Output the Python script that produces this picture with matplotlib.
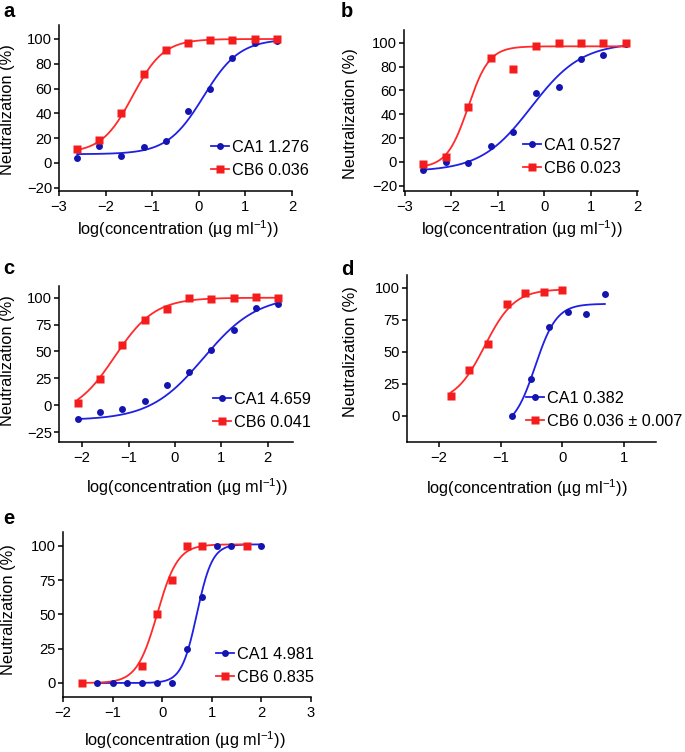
import numpy as np
import matplotlib
matplotlib.use("Agg")
import matplotlib.pyplot as plt
from matplotlib.lines import Line2D

plt.rcParams['font.family'] = ['Liberation Sans', 'DejaVu Sans']
plt.rcParams['mathtext.fontset'] = 'custom'
plt.rcParams['mathtext.rm'] = 'Liberation Sans'
plt.rcParams['mathtext.it'] = 'Liberation Sans'

W, H = 685, 752

# ---------------- data ----------------
# panel a
a_ca1_x = [-2.61, -2.14, -1.66, -1.18, -0.71, -0.23, 0.25, 0.72, 1.20, 1.67]
a_ca1_y = [4, 13.5, 5.5, 13, 18, 42, 60, 84.5, 96.5, 98.5]
a_cb6_x = [-2.61, -2.14, -1.66, -1.18, -0.71, -0.23, 0.25, 0.72, 1.20, 1.67]
a_cb6_y = [11, 18.3, 40, 72, 91, 97, 99, 99.5, 100, 100]
# panel b
b_ca1_x = [-2.61, -2.12, -1.64, -1.15, -0.67, -0.18, 0.31, 0.79, 1.27, 1.76]
b_ca1_y = [-6.5, 0, -0.5, 13.7, 25, 58, 63, 86, 90, 99]
b_cb6_x = [-2.61, -2.12, -1.64, -1.15, -0.67, -0.18, 0.31, 0.79, 1.27, 1.76]
b_cb6_y = [-2, 4.5, 46, 87, 78, 97.5, 99.5, 100, 100, 100]
# panel c
c_ca1_x = [-2.09, -1.62, -1.13, -0.65, -0.17, 0.31, 0.79, 1.27, 1.75, 2.23]
c_ca1_y = [-12.5, -6.6, -3.2, 4.2, 18.8, 30.4, 51.5, 69.5, 90, 93.8]
c_cb6_x = [-2.09, -1.62, -1.13, -0.65, -0.17, 0.31, 0.79, 1.27, 1.75, 2.23]
c_cb6_y = [1.7, 24.7, 56, 79.5, 89.7, 99.4, 98.8, 99.7, 100.6, 100]
# panel d
d_ca1_x = [-0.81, -0.51, -0.21, 0.09, 0.39, 0.69]
d_ca1_y = [0, 28.5, 69.4, 80.9, 79.6, 94.8]
d_cb6_x = [-1.81, -1.51, -1.20, -0.90, -0.60, -0.30, 0.0]
d_cb6_y = [15.4, 35.9, 56.3, 87.2, 96, 97.1, 98.2]
# panel e
e_ca1_x = [-1.31, -1.0, -0.70, -0.41, -0.11, 0.19, 0.50, 0.80, 1.10, 1.39, 2.0]
e_ca1_y = [0, 0, 0, 0, 0, 0, 25, 62.5, 100, 100, 100]
e_cb6_x = [-1.62, -0.41, -0.11, 0.19, 0.50, 0.80, 1.70]
e_cb6_y = [0, 12.5, 50, 75, 100, 100, 100]

# fitted 4-parameter logistic curves: bottom, top, logIC50, hill
a_ca1_fit = [7, 100, 0.10, 1.12]
a_cb6_fit = [8, 100, -1.42, 1.31]
b_ca1_fit = [-8, 100, -0.28, 0.80]
b_cb6_fit = [-5, 97, -1.64, 1.9]
c_ca1_fit = [-14, 102, 0.62, 0.75]
c_cb6_fit = [-10, 100, -1.30, 1.0]
d_ca1_fit = [-10, 87.5, -0.44, 2.5]
d_cb6_fit = [10, 99, -1.26, 1.8]
e_ca1_fit = [0, 101, 0.70, 2.8]
e_cb6_fit = [0, 101, -0.10, 2.1]

panel_letters = ['a', 'b', 'c', 'd', 'e']
ca1_labels = ['CA1 1.276', 'CA1 0.527', 'CA1 4.659', 'CA1 0.382', 'CA1 4.981']
cb6_labels = ['CB6 0.036', 'CB6 0.023', 'CB6 0.041', 'CB6 0.036 \u00b1 0.007', 'CB6 0.835']
xticks_list = [[-3, -2, -1, 0, 1, 2], [-3, -2, -1, 0, 1, 2], [-2, -1, 0, 1, 2],
               [-2, -1, 0, 1], [-2, -1, 0, 1, 2, 3]]
yticks_list = [[-20, 0, 20, 40, 60, 80, 100], [-20, 0, 20, 40, 60, 80, 100],
               [-25, 0, 25, 50, 75, 100], [0, 25, 50, 75, 100], [0, 25, 50, 75, 100]]

xlabel = 'log(concentration (\u00b5g ml$^{\\mathregular{\u22121}}$))'
ylabel = 'Neutralization (%)'

BLUE_L = '#1f1fe6'
BLUE_M = '#1414b0'
RED_L = '#ff2a2a'
RED_M = '#f41c1c'

# ---------------- layout (pixels) ----------------
# left, right, top, bottom
boxes = [(59, 292, 25, 191), (404, 638, 30, 191), (59, 293, 286, 442),
         (407, 656, 275, 442), (63, 311, 532, 697)]
xlims = [(-3, 2), (-3.02, 2.02), (-2.5, 2.55), (-2.52, 1.52), (-2, 3)]
ylims = [(-22.7, 111.3), (-24.4, 110.7), (-34.3, 110.9), (-20.4, 110), (-10.2, 110)]
letter_pos = [(3, 17), (341, 17), (3, 274), (341, 275), (3, 524)]
ylab_pos = [(8, 110), (350, 114), (8, 361), (350, 352), (9, 610)]
xlab_pos = [(178, 229), (522, 229), (187, 487), (527, 488), (185, 740)]
leg_pos = [(211, 140), (523, 138), (213, 392), (526, 391), (216, 647)]

fig = plt.figure(figsize=(W / 100, H / 100), dpi=100)


def logistic(x, p):
    b, t, c, h = p
    return b + (t - b) / (1 + 10 ** ((c - x) * h))


panels = [
    (a_ca1_x, a_ca1_y, a_cb6_x, a_cb6_y, a_ca1_fit, a_cb6_fit),
    (b_ca1_x, b_ca1_y, b_cb6_x, b_cb6_y, b_ca1_fit, b_cb6_fit),
    (c_ca1_x, c_ca1_y, c_cb6_x, c_cb6_y, c_ca1_fit, c_cb6_fit),
    (d_ca1_x, d_ca1_y, d_cb6_x, d_cb6_y, d_ca1_fit, d_cb6_fit),
    (e_ca1_x, e_ca1_y, e_cb6_x, e_cb6_y, e_ca1_fit, e_cb6_fit),
]

for i, (x1, y1, x2, y2, f1, f2) in enumerate(panels):
    l, r, t, b = boxes[i]
    ax = fig.add_axes([l / W, 1 - b / H, (r - l) / W, (b - t) / H])
    # curves
    xs1 = np.linspace(min(x1), max(x1), 300)
    xs2 = np.linspace(min(x2), max(x2), 300)
    ax.plot(xs1, logistic(xs1, f1), color=BLUE_L, lw=1.3, zorder=2)
    ax.plot(xs2, logistic(xs2, f2), color=RED_L, lw=1.3, zorder=2)
    ax.plot(x1, y1, 'o', color=BLUE_M, ms=5.0, mec='none', zorder=3)
    ax.plot(x2, y2, 's', color=RED_M, ms=5.2, mec='none', zorder=4)
    ax.set_xlim(*xlims[i])
    ax.set_ylim(*ylims[i])
    ax.set_xticks(xticks_list[i])
    ax.set_yticks(yticks_list[i])
    ax.set_xticklabels([str(v).replace('-', '\u2212') for v in xticks_list[i]])
    ax.set_yticklabels([str(v).replace('-', '\u2212') for v in yticks_list[i]])
    for s in ['top', 'right']:
        ax.spines[s].set_visible(False)
    for s in ['left', 'bottom']:
        ax.spines[s].set_linewidth(1.1)
    ax.tick_params(direction='out', length=3.5, width=1.1, labelsize=10.6)
    ax.tick_params(axis='y', pad=1.5)
    ax.tick_params(axis='x', pad=3)

    h1 = Line2D([], [], color=BLUE_L, lw=1.3, marker='o', ms=5.0,
                markerfacecolor=BLUE_M, mec='none')
    h2 = Line2D([], [], color=RED_L, lw=1.3, marker='s', ms=5.2,
                markerfacecolor=RED_M, mec='none')
    lx, ly = leg_pos[i]
    fig.legend([h1, h2], [ca1_labels[i], cb6_labels[i]], loc='upper left',
               bbox_to_anchor=(lx / W, 1 - ly / H), frameon=False,
               fontsize=11.7, handlelength=1.1, handletextpad=0.2,
               borderpad=0, borderaxespad=0, labelspacing=0.5)

    fx, fy = letter_pos[i]
    fig.text(fx / W, 1 - fy / H, panel_letters[i], fontsize=14.5, fontweight='bold',
             ha='left', va='baseline')
    yx, yy = ylab_pos[i]
    fig.text(yx / W, 1 - yy / H, ylabel, rotation=90, fontsize=11.8,
             ha='center', va='center')
    xx, xy = xlab_pos[i]
    fig.text(xx / W, 1 - xy / H, xlabel, fontsize=11.8, ha='center', va='center')

fig.savefig('out.png', dpi=100)
